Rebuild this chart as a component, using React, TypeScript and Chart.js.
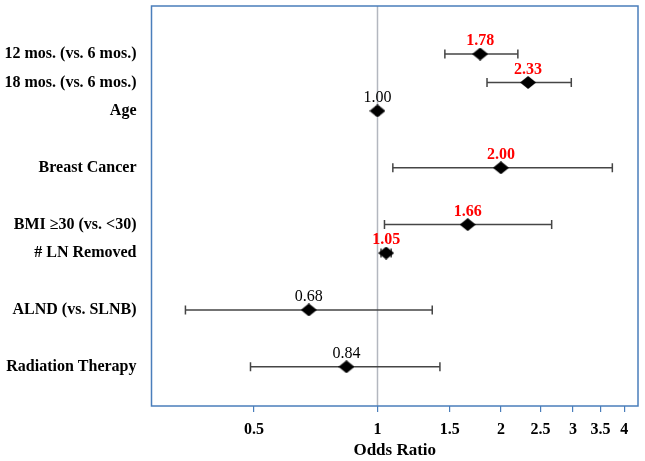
import React, { useEffect, useRef } from "react";
import { Chart, registerables } from "chart.js";

Chart.register(...registerables);

const categories = [
  "12 mos. (vs. 6 mos.)",
  "18 mos. (vs. 6 mos.)",
  "Age",
  "Breast Cancer",
  "BMI \u226530 (vs. <30)",
  "# LN Removed",
  "ALND (vs. SLNB)",
  "Radiation Therapy",
];
const rowPositions = [1, 2, 3, 5, 7, 8, 10, 12];
const oddsRatios = [1.78, 2.33, 1.0, 2.0, 1.66, 1.05, 0.68, 0.84];
const ciLower = [1.46, 1.85, 0.99, 1.09, 1.04, 1.02, 0.34, 0.49];
const ciUpper = [2.2, 2.97, 1.01, 3.74, 2.66, 1.08, 1.36, 1.42];
const significant = [true, true, false, true, true, true, false, false];
const xTickValues = [0.5, 1, 1.5, 2, 2.5, 3, 3.5, 4];
const referenceValue = 1;
const xMin = 0.281;
const xMax = 4.32;
const yMin = -0.69;
const yMax = 13.38;

const FONT = "'Liberation Serif', 'Times New Roman', serif";

function makeDiamond(): HTMLCanvasElement {
  const c = document.createElement("canvas");
  const w = 16;
  const h = 13;
  c.width = w;
  c.height = h;
  const ctx = c.getContext("2d")!;
  ctx.fillStyle = "#000";
  ctx.beginPath();
  ctx.moveTo(w / 2, 0);
  ctx.lineTo(w, h / 2);
  ctx.lineTo(w / 2, h);
  ctx.lineTo(0, h / 2);
  ctx.closePath();
  ctx.fill();
  return c;
}

export default function App() {
  const ref = useRef<HTMLCanvasElement | null>(null);

  useEffect(() => {
    if (!ref.current) return;
    const diamond = makeDiamond();

    const errorBarSets = rowPositions.map((y, i) => ({
      type: "line" as const,
      data: [
        { x: ciLower[i], y },
        { x: ciUpper[i], y },
      ],
      borderColor: "#454545",
      borderWidth: 1.5,
      pointStyle: "line" as const,
      pointRotation: 90,
      pointRadius: 4.5,
      pointBorderColor: "#454545",
      pointBorderWidth: 1.5,
      pointHoverRadius: 0,
      order: 1,
    }));

    const refLine = {
      type: "line" as const,
      data: [
        { x: referenceValue, y: yMin },
        { x: referenceValue, y: yMax },
      ],
      borderColor: "#b3b7bf",
      borderWidth: 1.5,
      pointRadius: 0,
      order: 2,
    };

    const points = {
      type: "scatter" as const,
      data: rowPositions.map((y, i) => ({ x: oddsRatios[i], y })),
      pointStyle: diamond,
      order: 0,
    };

    const boxPlugin = {
      id: "box",
      afterDraw(chart: any) {
        const { ctx, chartArea } = chart;
        ctx.save();
        ctx.strokeStyle = "#4a7ebb";
        ctx.lineWidth = 1.5;
        ctx.strokeRect(
          chartArea.left,
          chartArea.top,
          chartArea.right - chartArea.left,
          chartArea.bottom - chartArea.top
        );
        ctx.restore();
      },
    };

    const labelPlugin = {
      id: "valueLabels",
      afterDatasetsDraw(chart: any) {
        const { ctx } = chart;
        const xs = chart.scales.x;
        const ys = chart.scales.y;
        ctx.save();
        ctx.textAlign = "center";
        ctx.textBaseline = "middle";
        oddsRatios.forEach((v, i) => {
          const px = xs.getPixelForValue(v);
          const py = ys.getPixelForValue(rowPositions[i]);
          if (significant[i]) {
            ctx.font = `bold 16px ${FONT}`;
            ctx.fillStyle = "#ff0000";
          } else {
            ctx.font = `16px ${FONT}`;
            ctx.fillStyle = "#000000";
          }
          ctx.fillText(v.toFixed(2), px, py - 13);
        });
        ctx.restore();
      },
    };

    const chart = new Chart(ref.current, {
      type: "scatter",
      data: { datasets: [points, ...errorBarSets, refLine] as any },
      options: {
        animation: false,
        responsive: false,
        events: [],
        layout: { padding: { top: 6, right: 7, left: 0, bottom: 0 } },
        plugins: {
          legend: { display: false },
          tooltip: { enabled: false },
        },
        scales: {
          x: {
            type: "logarithmic",
            min: xMin,
            max: xMax,
            afterBuildTicks: (scale: any) => {
              scale.ticks = xTickValues.map((v) => ({ value: v }));
            },
            afterFit: (scale: any) => {
              scale.height = 55;
              scale.paddingLeft = 0;
              scale.paddingRight = 0;
            },
            ticks: {
              autoSkip: false,
              maxRotation: 0,
              padding: 8,
              color: "#000",
              font: { family: FONT, size: 16, weight: "bold" },
              callback: (v: any) => String(v),
            },
            grid: {
              drawOnChartArea: false,
              drawTicks: true,
              tickLength: 6,
              color: "#4a7ebb",
              lineWidth: 1.2,
            },
            border: { display: false },
            title: {
              display: true,
              text: "Odds Ratio",
              color: "#000",
              font: { family: FONT, size: 17, weight: "bold" },
              padding: { top: 0, bottom: 0 },
            },
          },
          y: {
            type: "linear",
            reverse: true,
            min: yMin,
            max: yMax,
            afterBuildTicks: (scale: any) => {
              scale.ticks = rowPositions.map((v) => ({ value: v }));
            },
            afterFit: (scale: any) => {
              scale.width = 151.5;
              scale.paddingTop = 0;
              scale.paddingBottom = 0;
            },
            ticks: {
              autoSkip: false,
              padding: 15,
              color: "#000",
              font: { family: FONT, size: 16, weight: "bold" },
              callback: (v: any) => {
                const idx = rowPositions.indexOf(Number(v));
                return idx >= 0 ? categories[idx] : "";
              },
            },
            grid: { display: false, drawTicks: false },
            border: { display: false },
          },
        },
      } as any,
      plugins: [boxPlugin, labelPlugin],
    });

    return () => chart.destroy();
  }, []);

  return (
    <div style={{ position: "fixed", left: 0, top: 0, width: 645, height: 461, background: "#fff" }}>
      <canvas ref={ref} width={645} height={461} />
    </div>
  );
}
